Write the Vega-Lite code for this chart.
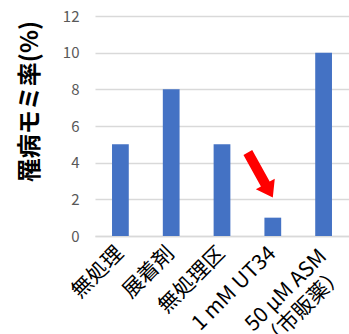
{
  "$schema": "https://vega.github.io/schema/vega-lite/v6.json",
  "autosize": {"type": "none"},
  "width": 254,
  "height": 220,
  "padding": {"left": 95, "top": 16, "right": 0, "bottom": 98},
  "background": "white",
  "config": {
    "view": {"stroke": null},
    "font": "Noto Sans CJK JP"
  },
  "encoding": {
    "x": {
      "field": "treatment", "type": "nominal",
      "sort": ["無処理", "展着剤", "無処理区", "1 mM UT34", "50 μM ASM（市販薬）"],
      "scale": {"paddingInner": 0.67, "paddingOuter": 0.335},
      "axis": {
        "title": null,
        "labelAngle": -45,
        "labelAlign": "right",
        "labelBaseline": "middle",
        "labelPadding": {"condition": {"test": "datum.value == '50 μM ASM（市販薬）'", "value": 17}, "value": 14},
        "labelFontSize": 21,
        "labelColor": "#000000",
        "labelLineHeight": 25,
        "labelExpr": "datum.value == '50 μM ASM（市販薬）' ? ['50 μM ASM', '（市販薬）'] : datum.label",
        "ticks": false,
        "domainColor": "#D9D9D9",
        "domainWidth": 1.3,
        "labelOverlap": false
      }
    },
    "y": {
      "field": "rate", "type": "quantitative",
      "scale": {"domain": [0, 12], "nice": false},
      "axis": {
        "title": "罹病モミ率(%)",
        "titleFontSize": 24,
        "titleFontWeight": "bold",
        "titleColor": "#000000",
        "titleX": -65,
        "titleY": 85,
        "titleAlign": "center",
        "titleBaseline": "middle",
        "titleAngle": -90,
        "values": [0, 2, 4, 6, 8, 10, 12],
        "tickCount": 7,
        "labelOverlap": false,
        "labelFontSize": 15,
        "labelColor": "#595959",
        "labelPadding": 16,
        "ticks": false,
        "domain": false,
        "gridColor": "#D9D9D9",
        "gridWidth": 1.3
      }
    }
  },
  "layer": [
    {
      "data": {"values": [
        {"treatment": "無処理", "rate": 5},
        {"treatment": "展着剤", "rate": 8},
        {"treatment": "無処理区", "rate": 5},
        {"treatment": "1 mM UT34", "rate": 1},
        {"treatment": "50 μM ASM（市販薬）", "rate": 10}
      ]},
      "mark": {"type": "bar", "color": "#4472C4"}
    },
    {
      "data": {"values": [
        {"treatment": "1 mM UT34", "rate": 2.1}
      ]},
      "mark": {
        "type": "point",
        "shape": "M -0.097 -1 L 0.097 -1 L 0.097 -0.3 L 0.21 -0.3 L 0 0 L -0.21 -0.3 L -0.097 -0.3 Z",
        "size": 10609,
        "angle": -29,
        "filled": true,
        "color": "#FF0000",
        "opacity": 1,
        "strokeWidth": 0
      }
    }
  ]
}
